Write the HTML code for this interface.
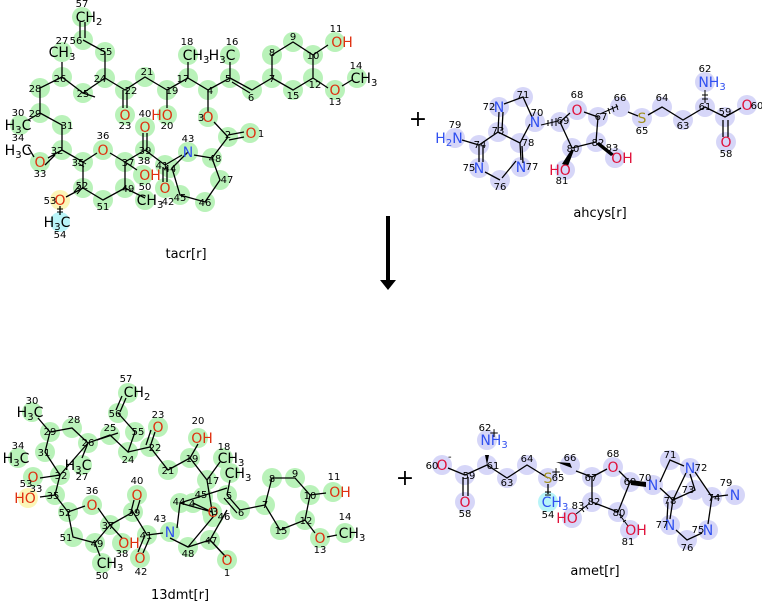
<!DOCTYPE html>
<html><head><meta charset="utf-8"><style>
html,body{margin:0;padding:0;background:#fff;}
svg{display:block;font-family:"DejaVu Sans","Liberation Sans",sans-serif;}
.g{fill:#b9f2b9;}
.b{fill:#d6d6f8;}
g.g circle,g.b circle{r:10px;}
.y{fill:#fbf6b8;}
.c{fill:#b8f4f8;}
.n{font-size:10px;fill:#000;text-anchor:middle;}
.a{font-size:14px;text-anchor:middle;}
.O{fill:#e03010;}
.P{fill:#e0103a;}
.N{fill:#3050f0;}
.S{fill:#a09020;}
.K{fill:#000;}
.L{font-size:13px;text-anchor:middle;fill:#000;}
path{stroke:#000;stroke-width:1.3;fill:none;}
</style></head><body>
<svg width="762" height="603" viewBox="0 0 762 603" xmlns="http://www.w3.org/2000/svg">
<!-- ================= tacr ================= -->
<g class="g">
<circle cx="82" cy="17" r="9"/><circle cx="83" cy="40" r="9"/><circle cx="105" cy="52" r="9"/><circle cx="105" cy="78" r="9"/><circle cx="83" cy="93" r="9"/><circle cx="62" cy="77" r="9"/><circle cx="62" cy="52" r="9"/><circle cx="40" cy="88" r="9"/><circle cx="40" cy="113" r="9"/><circle cx="20" cy="125" r="9"/><circle cx="62" cy="125" r="9"/><circle cx="62" cy="150" r="9"/><circle cx="40" cy="162" r="9"/><circle cx="83" cy="162" r="9"/><circle cx="103" cy="150" r="9"/><circle cx="125" cy="162" r="9"/><circle cx="143" cy="175" r="9"/><circle cx="145" cy="150" r="9"/><circle cx="145" cy="127" r="9"/><circle cx="165" cy="165" r="9"/><circle cx="165" cy="188" r="9"/><circle cx="188" cy="152" r="9"/><circle cx="170" cy="168" r="9"/><circle cx="180" cy="195" r="9"/><circle cx="205" cy="202" r="9"/><circle cx="220" cy="180" r="9"/><circle cx="212" cy="158" r="9"/><circle cx="228" cy="137" r="9"/><circle cx="250" cy="133" r="9"/><circle cx="208" cy="117" r="9"/><circle cx="208" cy="90" r="9"/><circle cx="188" cy="78" r="9"/><circle cx="188" cy="55" r="9"/><circle cx="167" cy="90" r="9"/><circle cx="167" cy="115" r="9"/><circle cx="145" cy="77" r="9"/><circle cx="125" cy="90" r="9"/><circle cx="125" cy="115" r="9"/><circle cx="230" cy="78" r="9"/><circle cx="230" cy="55" r="9"/><circle cx="252" cy="90" r="9"/><circle cx="272" cy="78" r="9"/><circle cx="272" cy="55" r="9"/><circle cx="293" cy="42" r="9"/><circle cx="313" cy="55" r="9"/><circle cx="335" cy="42" r="9"/><circle cx="313" cy="78" r="9"/><circle cx="335" cy="90" r="9"/><circle cx="357" cy="78" r="9"/><circle cx="293" cy="90" r="9"/><circle cx="125" cy="188" r="9"/><circle cx="145" cy="200" r="9"/><circle cx="103" cy="200" r="9"/><circle cx="83" cy="188" r="9"/>
</g>
<circle class="y" cx="60" cy="200" r="10"/><circle class="c" cx="60" cy="222" r="10"/>
<path d="M80 22L80 38M85 22L85 38M83 40L105 52L105 78L83 93L62 77L62 62M62 77L40 88L40 113L28 120M40 113L62 125L62 150L48 158M62 150L83 162L97 153M110 153L125 162L137 170M125 162L145 150M143 150L143 133M147 150L147 133M145 150L165 165M163 167L163 182M167 167L167 182M165 165L182 155M194 155L212 158L228 137M228 135L244 132M229 140L244 137M228 137L214 122M208 112L208 90L188 78L188 62M188 78L167 90L167 108M167 90L145 77L125 90L105 78M123 90L123 108M127 90L127 108M105 78L83 93L95 97M208 90L230 78L230 62M230 78L252 90M232 82L250 93M252 90L272 78L272 55L293 42L313 55L313 78L293 90L272 78M313 55L328 45M313 78L328 88M342 86L352 80M125 162L125 188L145 198M125 188L103 200L83 188L83 162M83 188L66 197M60 206L60 215M28 147L34 157M45 165L55 155M188 152L172 168L180 195L205 202L220 180L212 158"/>
<path d="M80 160l6 4M78 163l6 4M83 187l-6 7M80 185l-6 7M57 209l6 0M57 212l6 0" style="stroke-width:1"/>
<text class="a K" x="89" y="22">CH<tspan font-size="10" dy="3">2</tspan></text>
<text class="a K" x="62" y="57">CH<tspan font-size="10" dy="3">3</tspan></text>
<text class="a K" x="18" y="130">H<tspan font-size="10" dy="3">3</tspan><tspan dy="-3">C</tspan></text>
<text class="a K" x="18" y="155">H<tspan font-size="10" dy="3">3</tspan><tspan dy="-3">C</tspan></text>
<text class="a O" x="40" y="167">O</text><text class="a O" x="103" y="155">O</text>
<text class="a O" x="150" y="180">OH</text><text class="a O" x="145" y="132">O</text><text class="a O" x="165" y="193">O</text>
<text class="a N" x="188" y="157">N</text><text class="a O" x="251" y="138">O</text><text class="a O" x="208" y="122">O</text>
<text class="a K" x="196" y="60">CH<tspan font-size="10" dy="3">3</tspan></text>
<text class="a O" x="162" y="120">HO</text><text class="a O" x="125" y="120">O</text>
<text class="a K" x="222" y="60">H<tspan font-size="10" dy="3">3</tspan><tspan dy="-3">C</tspan></text>
<text class="a O" x="342" y="47">OH</text><text class="a O" x="335" y="95">O</text>
<text class="a K" x="364" y="83">CH<tspan font-size="10" dy="3">3</tspan></text>
<text class="a K" x="150" y="205">CH<tspan font-size="10" dy="3">3</tspan></text>
<text class="a O" x="60" y="205">O</text>
<text class="a K" x="57" y="227">H<tspan font-size="10" dy="3">3</tspan><tspan dy="-3">C</tspan></text>
<g class="n">
<text x="82" y="7">57</text><text x="76" y="44">56</text><text x="106" y="55">55</text><text x="100" y="82">24</text><text x="83" y="97">25</text><text x="60" y="82">26</text><text x="62" y="44">27</text><text x="35" y="92">28</text><text x="35" y="117">29</text><text x="18" y="116">30</text><text x="67" y="129">31</text><text x="57" y="154">32</text><text x="40" y="177">33</text><text x="18" y="141">34</text><text x="78" y="166">35</text><text x="103" y="139">36</text><text x="128" y="166">37</text><text x="144" y="164">38</text><text x="145" y="154">39</text><text x="145" y="117">40</text><text x="162" y="169">41</text><text x="168" y="205">42</text><text x="188" y="142">43</text><text x="170" y="172">44</text><text x="180" y="201">45</text><text x="205" y="206">46</text><text x="227" y="183">47</text><text x="215" y="162">48</text><text x="228" y="138">2</text><text x="261" y="137">1</text><text x="201" y="121">3</text><text x="210" y="94">4</text><text x="183" y="82">17</text><text x="187" y="45">18</text><text x="172" y="94">19</text><text x="167" y="129">20</text><text x="147" y="75">21</text><text x="131" y="94">22</text><text x="125" y="129">23</text><text x="228" y="82">5</text><text x="232" y="45">16</text><text x="251" y="101">6</text><text x="272" y="82">7</text><text x="272" y="56">8</text><text x="293" y="40">9</text><text x="313" y="59">10</text><text x="336" y="32">11</text><text x="315" y="88">12</text><text x="335" y="105">13</text><text x="356" y="69">14</text><text x="293" y="99">15</text><text x="128" y="192">49</text><text x="145" y="190">50</text><text x="103" y="210">51</text><text x="82" y="189">52</text><text x="50" y="204">53</text><text x="60" y="238">54</text>
</g>
<text class="L" x="186" y="258">tacr[r]</text>

<text x="418" y="126" style="font-size:22px;text-anchor:middle">+</text>
<text x="405" y="485" style="font-size:22px;text-anchor:middle">+</text>
<rect x="386" y="216" width="4" height="66" fill="#000"/>
<polygon points="380,280 396,280 388,290" fill="#000"/>

<!-- ================= ahcys ================= -->
<g class="b">
<circle cx="455" cy="138" r="9"/><circle cx="479" cy="145" r="9"/><circle cx="498" cy="132" r="9"/><circle cx="499" cy="107" r="9"/><circle cx="523" cy="97" r="9"/><circle cx="535" cy="122" r="9"/><circle cx="520" cy="143" r="9"/><circle cx="521" cy="167" r="9"/><circle cx="500" cy="180" r="9"/><circle cx="479" cy="168" r="9"/><circle cx="560" cy="122" r="9"/><circle cx="577" cy="110" r="9"/><circle cx="598" cy="117" r="9"/><circle cx="620" cy="107" r="9"/><circle cx="642" cy="118" r="9"/><circle cx="662" cy="107" r="9"/><circle cx="683" cy="120" r="9"/><circle cx="705" cy="107" r="9"/><circle cx="705" cy="82" r="9"/><circle cx="725" cy="117" r="9"/><circle cx="747" cy="105" r="9"/><circle cx="726" cy="142" r="9"/><circle cx="596" cy="142" r="9"/><circle cx="615" cy="158" r="9"/><circle cx="572" cy="148" r="9"/><circle cx="565" cy="170" r="9"/>
</g>
<path d="M462 140L479 145L498 132L499 112M502 130L503 112M504 104L523 97L532 117M530 124L520 143L498 132M520 143L521 160M516 161L502 178M500 180L485 172M479 162L479 145M483 145L483 162M522 146L523 163M572 148L560 122L570 113M584 112L598 117L596 142L572 148M628 112L638 116M648 115L662 107L683 120L705 107L725 117L741 108M723 120L723 137M728 120L728 137"/>
<path d="M541 125l17-4M548 120l0 6M552 119l0 7M556 118l0 8M600 114l18-8M608 108l2 6M612 106l2 6M616 104l2 6M705 103l0-13M702 99l6 0M702 95l6 0" style="stroke-width:1"/>
<polygon points="571,150 574,150 568,166 562,164" fill="#000"/>
<polygon points="596,144 599,142 614,154 611,156" fill="#000"/>
<text class="a N" x="449" y="143">H<tspan font-size="10" dy="3">2</tspan><tspan dy="-3">N</tspan></text>
<text class="a N" x="499" y="112">N</text><text class="a N" x="535" y="127">N</text><text class="a N" x="521" y="172">N</text><text class="a N" x="479" y="173">N</text>
<text class="a P" x="577" y="115">O</text><text class="a S" x="642" y="123">S</text>
<text class="a N" x="712" y="87">NH<tspan font-size="10" dy="3">3</tspan></text>
<text class="a P" x="747" y="110">O</text><text class="a P" x="726" y="147">O</text>
<text class="a P" x="622" y="163">OH</text><text class="a P" x="560" y="175">HO</text>
<g class="n">
<text x="455" y="128">79</text><text x="480" y="148">74</text><text x="498" y="134">73</text><text x="489" y="110">72</text><text x="523" y="98">71</text><text x="537" y="116">70</text><text x="528" y="146">78</text><text x="532" y="170">77</text><text x="500" y="190">76</text><text x="469" y="171">75</text><text x="563" y="124">69</text><text x="577" y="98">68</text><text x="601" y="120">67</text><text x="620" y="101">66</text><text x="642" y="134">65</text><text x="662" y="101">64</text><text x="683" y="129">63</text><text x="705" y="110">61</text><text x="705" y="72">62</text><text x="725" y="115">59</text><text x="757" y="109">60</text><text x="726" y="157">58</text><text x="598" y="146">82</text><text x="612" y="151">83</text><text x="573" y="152">80</text><text x="562" y="184">81</text>
</g>
<text class="L" x="600" y="217">ahcys[r]</text>

<!-- ================= 13dmt ================= -->
<g class="g">
<circle cx="128" cy="393" r="9"/><circle cx="118" cy="413" r="9"/><circle cx="135" cy="432" r="9"/><circle cx="128" cy="452" r="9"/><circle cx="110" cy="435" r="9"/><circle cx="88" cy="443" r="9"/><circle cx="82" cy="465" r="9"/><circle cx="72" cy="428" r="9"/><circle cx="50" cy="432" r="9"/><circle cx="32" cy="412" r="9"/><circle cx="45" cy="452" r="9"/><circle cx="60" cy="475" r="9"/><circle cx="33" cy="477" r="9"/><circle cx="18" cy="458" r="9"/><circle cx="55" cy="495" r="9"/><circle cx="68" cy="512" r="9"/><circle cx="92" cy="505" r="9"/><circle cx="110" cy="525" r="9"/><circle cx="122" cy="543" r="9"/><circle cx="133" cy="512" r="9"/><circle cx="137" cy="495" r="9"/><circle cx="147" cy="535" r="9"/><circle cx="140" cy="558" r="9"/><circle cx="170" cy="532" r="9"/><circle cx="180" cy="503" r="9"/><circle cx="188" cy="547" r="9"/><circle cx="210" cy="540" r="9"/><circle cx="227" cy="560" r="9"/><circle cx="213" cy="517" r="9"/><circle cx="203" cy="497" r="9"/><circle cx="212" cy="512" r="9"/><circle cx="193" cy="503" r="9"/><circle cx="207" cy="480" r="9"/><circle cx="223" cy="458" r="9"/><circle cx="190" cy="458" r="9"/><circle cx="198" cy="438" r="9"/><circle cx="168" cy="470" r="9"/><circle cx="150" cy="447" r="9"/><circle cx="158" cy="427" r="9"/><circle cx="227" cy="495" r="9"/><circle cx="230" cy="473" r="9"/><circle cx="240" cy="510" r="9"/><circle cx="265" cy="505" r="9"/><circle cx="272" cy="478" r="9"/><circle cx="295" cy="478" r="9"/><circle cx="310" cy="495" r="9"/><circle cx="333" cy="492" r="9"/><circle cx="305" cy="520" r="9"/><circle cx="320" cy="538" r="9"/><circle cx="345" cy="533" r="9"/><circle cx="280" cy="530" r="9"/><circle cx="95" cy="543" r="9"/><circle cx="102" cy="563" r="9"/><circle cx="73" cy="537" r="9"/>
</g>
<circle class="y" cx="28" cy="498" r="10"/>
<path d="M120 412L126 398M116 410L122 396M118 413L135 432L128 452L110 435L88 443L72 428L50 432L38 418M50 432L45 452L60 475L40 478M60 475L88 443L82 458M128 452L150 447L168 470L190 458L207 480L220 462M190 458L198 444M150 447L155 432M146 445L151 430M60 475L55 495L40 497M55 495L68 512L85 506M98 508L110 525L122 538M110 525L133 512L147 535L163 533M131 512L134 500M136 513L140 500M145 535L138 552M150 537L143 553M68 512L73 537L95 543L110 525M95 543L100 556M177 528L180 503L227 488M180 503L212 512L193 503M170 538L188 547L210 540L227 510M188 547L213 517L207 480M210 540L224 555M212 542L226 557M227 495L230 480M227 495L240 510M224 498L237 513M240 510L265 505L272 478L295 478L310 495L305 520L280 530L265 505M310 495L326 493M305 520L315 533M327 537L337 535M97 440L118 433"/>
<text class="a K" x="137" y="397">CH<tspan font-size="10" dy="3">2</tspan></text>
<text class="a K" x="30" y="417">H<tspan font-size="10" dy="3">3</tspan><tspan dy="-3">C</tspan></text>
<text class="a K" x="16" y="463">H<tspan font-size="10" dy="3">3</tspan><tspan dy="-3">C</tspan></text>
<text class="a K" x="78" y="470">H<tspan font-size="10" dy="3">3</tspan><tspan dy="-3">C</tspan></text>
<text class="a O" x="33" y="482">O</text><text class="a O" x="25" y="503">HO</text>
<text class="a O" x="92" y="510">O</text><text class="a O" x="129" y="548">OH</text>
<text class="a O" x="137" y="500">O</text><text class="a O" x="140" y="563">O</text>
<text class="a N" x="170" y="537">N</text><text class="a O" x="213" y="517">O</text><text class="a O" x="227" y="565">O</text>
<text class="a O" x="158" y="432">O</text><text class="a O" x="202" y="443">OH</text>
<text class="a K" x="231" y="463">CH<tspan font-size="10" dy="3">3</tspan></text>
<text class="a K" x="238" y="478">CH<tspan font-size="10" dy="3">3</tspan></text>
<text class="a O" x="340" y="497">OH</text><text class="a O" x="320" y="543">O</text>
<text class="a K" x="352" y="538">CH<tspan font-size="10" dy="3">3</tspan></text>
<text class="a K" x="110" y="568">CH<tspan font-size="10" dy="3">3</tspan></text>
<g class="n">
<text x="126" y="382">57</text><text x="115" y="417">56</text><text x="138" y="435">55</text><text x="128" y="463">24</text><text x="110" y="431">25</text><text x="88" y="446">26</text><text x="82" y="480">27</text><text x="74" y="423">28</text><text x="50" y="435">29</text><text x="32" y="404">30</text><text x="44" y="456">31</text><text x="61" y="479">32</text><text x="36" y="492">33</text><text x="18" y="449">34</text><text x="53" y="499">35</text><text x="92" y="494">36</text><text x="108" y="529">37</text><text x="122" y="557">38</text><text x="134" y="516">39</text><text x="137" y="484">40</text><text x="146" y="539">41</text><text x="141" y="575">42</text><text x="160" y="522">43</text><text x="179" y="505">44</text><text x="201" y="498">45</text><text x="224" y="520">46</text><text x="211" y="544">47</text><text x="188" y="557">48</text><text x="227" y="576">1</text><text x="215" y="515">3</text><text x="192" y="507">4</text><text x="213" y="484">17</text><text x="224" y="450">18</text><text x="192" y="462">19</text><text x="198" y="424">20</text><text x="168" y="474">21</text><text x="155" y="451">22</text><text x="158" y="418">23</text><text x="229" y="499">5</text><text x="241" y="516">6</text><text x="265" y="508">7</text><text x="272" y="482">8</text><text x="295" y="477">9</text><text x="310" y="499">10</text><text x="334" y="480">11</text><text x="306" y="524">12</text><text x="320" y="553">13</text><text x="345" y="520">14</text><text x="281" y="534">15</text><text x="97" y="547">49</text><text x="102" y="579">50</text><text x="66" y="541">51</text><text x="65" y="516">52</text><text x="26" y="487">53</text>
</g>
<text class="L" x="180" y="599">13dmt[r]</text>

<!-- ================= amet ================= -->
<g class="b">
<circle cx="442" cy="465" r="9"/><circle cx="465" cy="475" r="9"/><circle cx="465" cy="502" r="9"/><circle cx="487" cy="465" r="9"/><circle cx="487" cy="440" r="9"/><circle cx="507" cy="478" r="9"/><circle cx="527" cy="465" r="9"/><circle cx="548" cy="478" r="9"/><circle cx="570" cy="465" r="9"/><circle cx="592" cy="477" r="9"/><circle cx="613" cy="467" r="9"/><circle cx="630" cy="482" r="9"/><circle cx="653" cy="485" r="9"/><circle cx="670" cy="460" r="9"/><circle cx="690" cy="468" r="9"/><circle cx="695" cy="490" r="9"/><circle cx="712" cy="497" r="9"/><circle cx="735" cy="495" r="9"/><circle cx="708" cy="530" r="9"/><circle cx="687" cy="540" r="9"/><circle cx="670" cy="525" r="9"/><circle cx="673" cy="500" r="9"/><circle cx="592" cy="502" r="9"/><circle cx="572" cy="518" r="9"/><circle cx="618" cy="512" r="9"/><circle cx="630" cy="530" r="9"/>
</g>
<circle class="c" cx="548" cy="502" r="10"/>
<path d="M448 468L465 475L487 465L507 478L527 465L548 478M463 477L463 496M468 477L468 496M592 477L607 469M619 471L630 482L618 512L592 502L592 477M630 482L645 485M660 482L670 460L684 466M686 473L673 500L660 488M695 472L712 497L728 495M712 497L708 524M702 533L687 540L676 530M670 519L673 500L695 490L690 474M667 520L668 502M576 471L592 477M548 484L548 494"/>
<path d="M545 492l6 0M545 495l6 0M590 503l-14 11M586 506l2 3M582 509l2 3M619 514l9 12M620 518l3-2M623 522l3-2" style="stroke-width:1"/>
<polygon points="485,455 489,455 487,465" fill="#000"/>
<polygon points="570,463 572,468 556,462" fill="#000"/>
<polygon points="630,480 631,485 646,487 646,482" fill="#000"/>
<text class="a P" x="442" y="470">O</text><text x="448" y="460" font-size="10">-</text>
<text class="a P" x="465" y="507">O</text>
<text class="a N" x="494" y="445">NH<tspan font-size="10" dy="3">3</tspan></text><text x="489" y="437" font-size="12">+</text>
<text class="a S" x="548" y="483">S</text><text x="551" y="476" font-size="12">+</text>
<text class="a N" x="555" y="507">CH<tspan font-size="10" dy="3">3</tspan></text>
<text class="a P" x="613" y="472">O</text>
<text class="a N" x="653" y="490">N</text><text class="a N" x="690" y="473">N</text><text class="a N" x="735" y="500">N</text><text class="a N" x="708" y="535">N</text><text class="a N" x="670" y="530">N</text>
<text class="a P" x="567" y="523">HO</text><text class="a P" x="636" y="535">OH</text>
<g class="n">
<text x="432" y="469">60</text><text x="469" y="479">59</text><text x="465" y="517">58</text><text x="493" y="469">61</text><text x="485" y="431">62</text><text x="507" y="486">63</text><text x="527" y="462">64</text><text x="558" y="481">65</text><text x="570" y="461">66</text><text x="591" y="481">67</text><text x="613" y="457">68</text><text x="630" y="485">69</text><text x="645" y="481">70</text><text x="670" y="458">71</text><text x="701" y="471">72</text><text x="688" y="493">73</text><text x="714" y="501">74</text><text x="726" y="486">79</text><text x="698" y="533">75</text><text x="687" y="551">76</text><text x="662" y="528">77</text><text x="670" y="504">78</text><text x="594" y="505">82</text><text x="578" y="509">83</text><text x="619" y="516">80</text><text x="628" y="545">81</text><text x="548" y="518">54</text>
</g>
<text class="L" x="595" y="575">amet[r]</text>
</svg>
</body></html>
